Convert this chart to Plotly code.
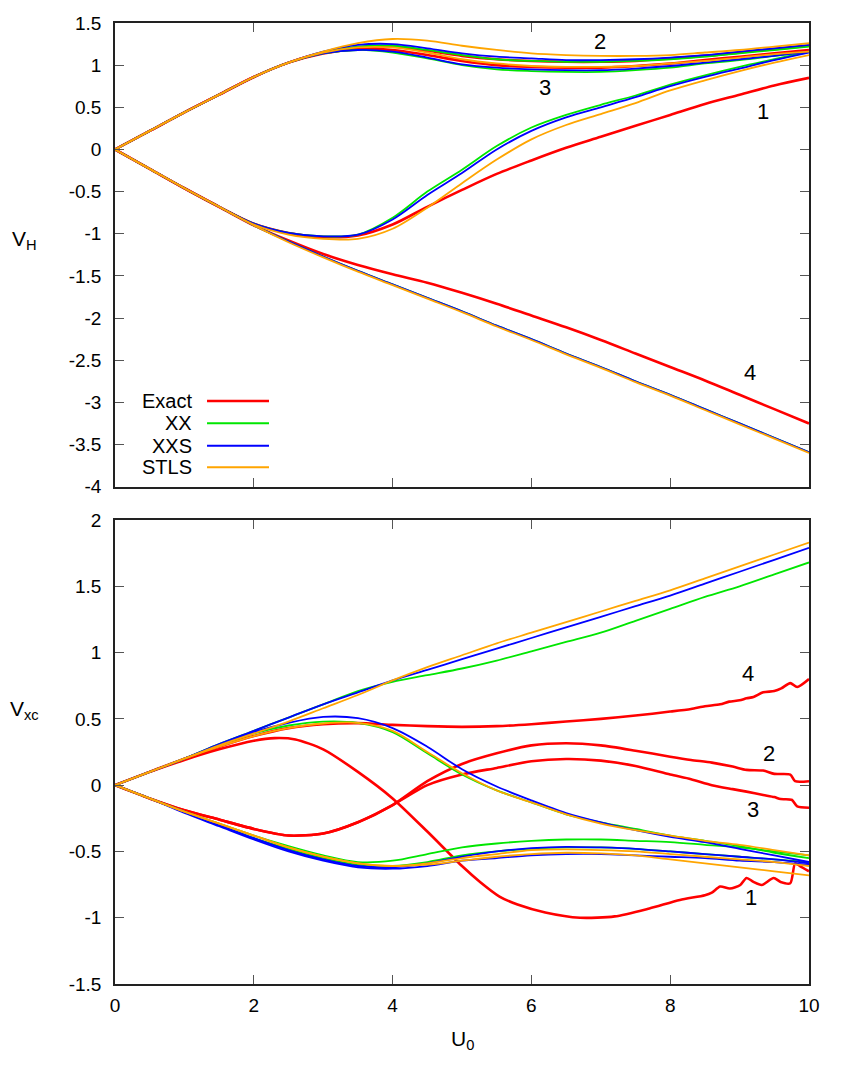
import plotly.graph_objects as go

# ---------------- data ----------------
U0 = [0, 0.5, 1, 1.5, 2, 2.5, 3, 3.5, 4, 4.5, 5, 5.5, 6, 6.5, 7, 7.5, 8, 8.5, 9, 9.5, 10]

# V_H (top panel)
vh_exact_1 = [0, -0.23, -0.46, -0.68, -0.88, -0.99, -1.04, -1.02, -0.89, -0.68, -0.48, -0.29, -0.13, 0.02, 0.15, 0.28, 0.41, 0.54, 0.65, 0.76, 0.85]
vh_exact_2 = [0, 0.22, 0.44, 0.65, 0.86, 1.03, 1.15, 1.21, 1.22, 1.17, 1.11, 1.07, 1.05, 1.04, 1.04, 1.05, 1.08, 1.11, 1.15, 1.19, 1.23]
vh_exact_3 = [0, 0.22, 0.44, 0.65, 0.86, 1.03, 1.14, 1.19, 1.18, 1.12, 1.05, 1.00, 0.98, 0.97, 0.97, 0.99, 1.02, 1.06, 1.10, 1.14, 1.18]
vh_exact_4 = [0, -0.23, -0.46, -0.68, -0.90, -1.08, -1.24, -1.37, -1.48, -1.58, -1.70, -1.83, -1.97, -2.11, -2.26, -2.42, -2.58, -2.74, -2.91, -3.08, -3.25]

vh_xx_1 = [0, -0.23, -0.46, -0.68, -0.88, -0.99, -1.03, -1.01, -0.81, -0.50, -0.24, 0.04, 0.26, 0.41, 0.53, 0.64, 0.77, 0.88, 0.98, 1.07, 1.16]
vh_xx_2 = [0, 0.22, 0.44, 0.65, 0.86, 1.03, 1.15, 1.22, 1.23, 1.18, 1.12, 1.07, 1.05, 1.04, 1.04, 1.05, 1.07, 1.10, 1.14, 1.18, 1.22]
vh_xx_3 = [0, 0.22, 0.44, 0.65, 0.86, 1.03, 1.14, 1.18, 1.15, 1.08, 1.00, 0.95, 0.93, 0.92, 0.92, 0.94, 0.97, 1.02, 1.06, 1.11, 1.16]
vh_xx_4 = [0, -0.23, -0.46, -0.68, -0.90, -1.09, -1.27, -1.44, -1.60, -1.76, -1.92, -2.09, -2.25, -2.42, -2.58, -2.75, -2.91, -3.08, -3.25, -3.42, -3.59]

vh_xxs_1 = [0, -0.23, -0.46, -0.68, -0.88, -0.99, -1.03, -1.01, -0.83, -0.54, -0.28, 0.00, 0.22, 0.38, 0.50, 0.62, 0.75, 0.86, 0.96, 1.06, 1.15]
vh_xxs_2 = [0, 0.22, 0.44, 0.65, 0.86, 1.03, 1.16, 1.24, 1.25, 1.20, 1.14, 1.10, 1.08, 1.06, 1.06, 1.07, 1.09, 1.12, 1.16, 1.20, 1.24]
vh_xxs_3 = [0, 0.22, 0.44, 0.65, 0.86, 1.03, 1.14, 1.18, 1.16, 1.09, 1.01, 0.97, 0.95, 0.94, 0.94, 0.96, 0.99, 1.03, 1.07, 1.11, 1.16]
vh_xxs_4 = [0, -0.23, -0.46, -0.68, -0.90, -1.09, -1.27, -1.44, -1.60, -1.76, -1.92, -2.09, -2.25, -2.42, -2.58, -2.75, -2.91, -3.08, -3.25, -3.42, -3.59]

vh_stls_1 = [0, -0.23, -0.46, -0.68, -0.89, -1.01, -1.06, -1.06, -0.94, -0.69, -0.40, -0.12, 0.12, 0.29, 0.42, 0.55, 0.70, 0.82, 0.93, 1.03, 1.12]
vh_stls_2 = [0, 0.22, 0.44, 0.65, 0.86, 1.03, 1.16, 1.26, 1.31, 1.29, 1.23, 1.18, 1.14, 1.12, 1.11, 1.11, 1.12, 1.15, 1.18, 1.22, 1.26]
vh_stls_3 = [0, 0.22, 0.44, 0.65, 0.86, 1.03, 1.15, 1.21, 1.21, 1.15, 1.07, 1.02, 0.99, 0.98, 0.98, 0.99, 1.02, 1.05, 1.09, 1.13, 1.16]
vh_stls_4 = [0, -0.23, -0.46, -0.68, -0.90, -1.10, -1.28, -1.45, -1.61, -1.77, -1.93, -2.10, -2.26, -2.43, -2.59, -2.76, -2.92, -3.09, -3.26, -3.43, -3.60]

# V_xc (bottom panel) - exact curves have their own (finer, noisy) U0 grids
vxc_exact_1_u = [0, 0.5, 1, 1.5, 2, 2.3, 2.6, 3, 3.5, 4, 4.5, 5, 5.26, 5.54, 5.8, 6.2, 6.7, 7.2, 7.7, 8.14, 8.5, 8.6, 8.72, 8.86, 9.01, 9.1, 9.2, 9.32, 9.49, 9.59, 9.73, 9.8, 9.87, 10]
vxc_exact_1 = [0, 0.1, 0.19, 0.27, 0.335, 0.355, 0.345, 0.27, 0.10, -0.10, -0.35, -0.61, -0.73, -0.84, -0.90, -0.96, -1.0, -0.99, -0.93, -0.866, -0.83, -0.81, -0.765, -0.78, -0.753, -0.70, -0.73, -0.753, -0.70, -0.73, -0.74, -0.59, -0.61, -0.65]
vxc_exact_2_u = [0, 0.5, 1, 1.5, 2, 2.5, 3, 3.5, 4, 4.5, 5, 5.5, 6, 6.5, 7, 7.5, 8, 8.3, 8.6, 8.9, 9.1, 9.34, 9.5, 9.73, 9.8, 10]
vxc_exact_2 = [0, -0.1, -0.19, -0.26, -0.33, -0.38, -0.365, -0.28, -0.15, 0.03, 0.16, 0.24, 0.30, 0.316, 0.30, 0.26, 0.215, 0.19, 0.17, 0.14, 0.115, 0.11, 0.085, 0.08, 0.03, 0.03]
vxc_exact_3_u = [0, 0.5, 1, 1.5, 2, 2.5, 3, 3.5, 4, 4.5, 5, 5.5, 6, 6.5, 7, 7.5, 8, 8.3, 8.6, 8.9, 9.1, 9.34, 9.5, 9.59, 9.75, 9.83, 10]
vxc_exact_3 = [0, -0.1, -0.19, -0.26, -0.33, -0.38, -0.365, -0.28, -0.15, 0.0, 0.08, 0.13, 0.18, 0.197, 0.185, 0.145, 0.08, 0.045, 0.0, -0.03, -0.049, -0.074, -0.09, -0.105, -0.11, -0.16, -0.17]
vxc_exact_4_u = [0, 0.5, 1, 1.5, 2, 2.5, 3, 3.5, 4, 4.5, 5, 5.5, 6, 6.5, 7, 7.5, 8, 8.3, 8.5, 8.72, 8.85, 9.0, 9.1, 9.2, 9.34, 9.5, 9.6, 9.73, 9.83, 10]
vxc_exact_4 = [0, 0.1, 0.2, 0.29, 0.37, 0.43, 0.46, 0.468, 0.455, 0.445, 0.44, 0.445, 0.46, 0.48, 0.50, 0.525, 0.555, 0.575, 0.595, 0.61, 0.63, 0.64, 0.655, 0.665, 0.70, 0.71, 0.73, 0.77, 0.74, 0.80]

vxc_xx_1 = [0, 0.1, 0.2, 0.3, 0.39, 0.45, 0.48, 0.47, 0.40, 0.24, 0.08, -0.04, -0.13, -0.22, -0.28, -0.33, -0.38, -0.42, -0.46, -0.51, -0.55]
vxc_xx_2 = [0, -0.1, -0.2, -0.29, -0.38, -0.46, -0.53, -0.58, -0.57, -0.52, -0.47, -0.44, -0.42, -0.41, -0.41, -0.42, -0.43, -0.45, -0.47, -0.50, -0.53]
vxc_xx_3 = [0, -0.1, -0.2, -0.3, -0.4, -0.48, -0.55, -0.60, -0.61, -0.58, -0.53, -0.50, -0.48, -0.47, -0.47, -0.48, -0.50, -0.52, -0.54, -0.56, -0.58]
vxc_xx_4 = [0, 0.1, 0.2, 0.31, 0.41, 0.51, 0.61, 0.71, 0.78, 0.83, 0.88, 0.94, 1.01, 1.08, 1.15, 1.24, 1.33, 1.42, 1.50, 1.59, 1.68]

vxc_xxs_1 = [0, 0.1, 0.2, 0.3, 0.40, 0.47, 0.515, 0.505, 0.43, 0.29, 0.12, -0.01, -0.115, -0.21, -0.28, -0.34, -0.39, -0.43, -0.48, -0.53, -0.58]
vxc_xxs_2 = [0, -0.1, -0.2, -0.3, -0.4, -0.49, -0.56, -0.61, -0.62, -0.59, -0.54, -0.50, -0.475, -0.465, -0.47, -0.48, -0.50, -0.52, -0.54, -0.56, -0.59]
vxc_xxs_3 = [0, -0.1, -0.21, -0.31, -0.41, -0.50, -0.57, -0.62, -0.63, -0.61, -0.57, -0.55, -0.53, -0.52, -0.52, -0.53, -0.54, -0.55, -0.57, -0.58, -0.60]
vxc_xxs_4 = [0, 0.1, 0.2, 0.31, 0.41, 0.51, 0.61, 0.70, 0.79, 0.87, 0.95, 1.03, 1.11, 1.19, 1.27, 1.35, 1.43, 1.52, 1.61, 1.70, 1.79]

vxc_stls_1 = [0, 0.1, 0.2, 0.29, 0.37, 0.43, 0.465, 0.47, 0.41, 0.25, 0.09, -0.04, -0.13, -0.22, -0.29, -0.34, -0.38, -0.42, -0.45, -0.49, -0.53]
vxc_stls_2 = [0, -0.1, -0.2, -0.29, -0.38, -0.47, -0.54, -0.59, -0.61, -0.59, -0.55, -0.52, -0.49, -0.485, -0.49, -0.50, -0.52, -0.54, -0.56, -0.58, -0.61]
vxc_stls_3 = [0, -0.1, -0.2, -0.29, -0.38, -0.47, -0.54, -0.59, -0.61, -0.60, -0.57, -0.54, -0.52, -0.51, -0.515, -0.53, -0.56, -0.59, -0.62, -0.65, -0.68]
vxc_stls_4 = [0, 0.1, 0.2, 0.3, 0.39, 0.48, 0.58, 0.68, 0.79, 0.89, 0.98, 1.07, 1.15, 1.23, 1.31, 1.39, 1.47, 1.56, 1.65, 1.74, 1.83]

methods = ["Exact", "XX", "XXS", "STLS"]
x_ticks = [0, 2, 4, 6, 8, 10]
vh_ticks = [1.5, 1, 0.5, 0, -0.5, -1, -1.5, -2, -2.5, -3, -3.5, -4]
vxc_ticks = [2, 1.5, 1, 0.5, 0, -0.5, -1, -1.5]

# curve labels (site index, U0, value)
vh_labels = [("1", 9.34, 0.45), ("2", 6.99, 1.275), ("3", 6.19, 0.735), ("4", 9.15, -2.65)]
vxc_labels = [("1", 9.17, -0.85), ("2", 9.42, 0.24), ("3", 9.2, -0.18), ("4", 9.12, 0.845)]

# ---------------- styling ----------------
COLORS = {"Exact": "#ff0000", "XX": "#00e600", "XXS": "#0000ff", "STLS": "#ffa500"}
WIDTHS = {"Exact": 2.6, "XX": 1.8, "XXS": 1.8, "STLS": 1.8}
FONT = "Liberation Sans, Arial, sans-serif"

fig = go.Figure()


def add(x, y, method, xa, ya, smoothing=0.9):
    fig.add_trace(go.Scatter(
        x=x, y=y, mode="lines", name=method, showlegend=False, hoverinfo="skip",
        line=dict(color=COLORS[method], width=WIDTHS[method], shape="spline", smoothing=smoothing),
        xaxis=xa, yaxis=ya))


# top panel
for y in [vh_exact_1, vh_exact_2, vh_exact_3, vh_exact_4]:
    add(U0, y, "Exact", "x", "y")
for y in [vh_xx_1, vh_xx_2, vh_xx_3, vh_xx_4]:
    add(U0, y, "XX", "x", "y")
for y in [vh_xxs_1, vh_xxs_2, vh_xxs_3, vh_xxs_4]:
    add(U0, y, "XXS", "x", "y")
for y in [vh_stls_1, vh_stls_2, vh_stls_3, vh_stls_4]:
    add(U0, y, "STLS", "x", "y")

# bottom panel
for u, y in [(vxc_exact_1_u, vxc_exact_1), (vxc_exact_2_u, vxc_exact_2),
             (vxc_exact_3_u, vxc_exact_3), (vxc_exact_4_u, vxc_exact_4)]:
    add(u, y, "Exact", "x2", "y2", smoothing=0.7)
for y in [vxc_xx_1, vxc_xx_2, vxc_xx_3, vxc_xx_4]:
    add(U0, y, "XX", "x2", "y2")
for y in [vxc_xxs_1, vxc_xxs_2, vxc_xxs_3, vxc_xxs_4]:
    add(U0, y, "XXS", "x2", "y2")
for y in [vxc_stls_1, vxc_stls_2, vxc_stls_3, vxc_stls_4]:
    add(U0, y, "STLS", "x2", "y2")


def fmt(v):
    return "%g" % v


axis_common = dict(showline=True, linecolor="#222", linewidth=1.5, mirror="ticks",
                   ticks="inside", ticklen=9, tickwidth=1, tickcolor="#555",
                   showgrid=False, zeroline=False,
                   tickfont=dict(family=FONT, size=19, color="black"))

fig.update_layout(
    width=858, height=1068,
    margin=dict(l=115, r=49, t=23, b=84),
    paper_bgcolor="white", plot_bgcolor="white",
    font=dict(family=FONT, size=19, color="black"),
    xaxis=dict(domain=[0, 1], range=[0, 10], anchor="y", tickvals=x_ticks,
               showticklabels=False, **axis_common),
    yaxis=dict(domain=[0.5175, 1], range=[-4, 1.5], anchor="x", tickvals=vh_ticks,
               ticktext=[fmt(v) for v in vh_ticks], ticklabelstandoff=8, **axis_common),
    xaxis2=dict(domain=[0, 1], range=[0, 10], anchor="y2", tickvals=x_ticks,
                ticktext=[fmt(v) for v in x_ticks], ticklabelstandoff=3, **axis_common),
    yaxis2=dict(domain=[0, 0.4828], range=[-1.5, 2], anchor="x2", tickvals=vxc_ticks,
                ticktext=[fmt(v) for v in vxc_ticks], ticklabelstandoff=8, **axis_common),
)

annotations = []
for txt, xv, yv in vh_labels:
    annotations.append(dict(text=txt, x=xv, y=yv, xref="x", yref="y", showarrow=False,
                            xanchor="center", yanchor="middle",
                            font=dict(family=FONT, size=22, color="black")))
for txt, xv, yv in vxc_labels:
    annotations.append(dict(text=txt, x=xv, y=yv, xref="x2", yref="y2", showarrow=False,
                            xanchor="center", yanchor="middle",
                            font=dict(family=FONT, size=22, color="black")))

# axis titles (gnuplot-style, unrotated)
title_font = dict(family=FONT, size=21, color="black")
annotations.append(dict(text="V<sub>H</sub>", x=-0.1297, y=0.774, xref="paper", yref="paper",
                        xanchor="center", yanchor="middle", showarrow=False, font=title_font))
annotations.append(dict(text="V<sub>xc</sub>", x=-0.1297, y=0.285, xref="paper", yref="paper",
                        xanchor="center", yanchor="middle", showarrow=False, font=title_font))
annotations.append(dict(text="U<sub>0</sub>", x=0.5014, y=-0.0583, xref="paper", yref="paper",
                        xanchor="center", yanchor="middle", showarrow=False, font=title_font))

# gnuplot-style key: text right-aligned, then line sample
key_rows = [0.6067, 0.5835, 0.5601, 0.5377]
shapes = []
for m, yk in zip(methods, key_rows):
    annotations.append(dict(text=m, x=0.1138, y=yk, xref="paper", yref="paper", xanchor="right",
                            yanchor="middle", showarrow=False,
                            font=dict(family=FONT, size=20, color="black")))
    shapes.append(dict(type="line", xref="paper", yref="paper", x0=0.1326, x1=0.2219, y0=yk, y1=yk,
                       line=dict(color=COLORS[m], width=WIDTHS[m])))

fig.update_layout(annotations=annotations, shapes=shapes)

fig.write_html("out.html")
